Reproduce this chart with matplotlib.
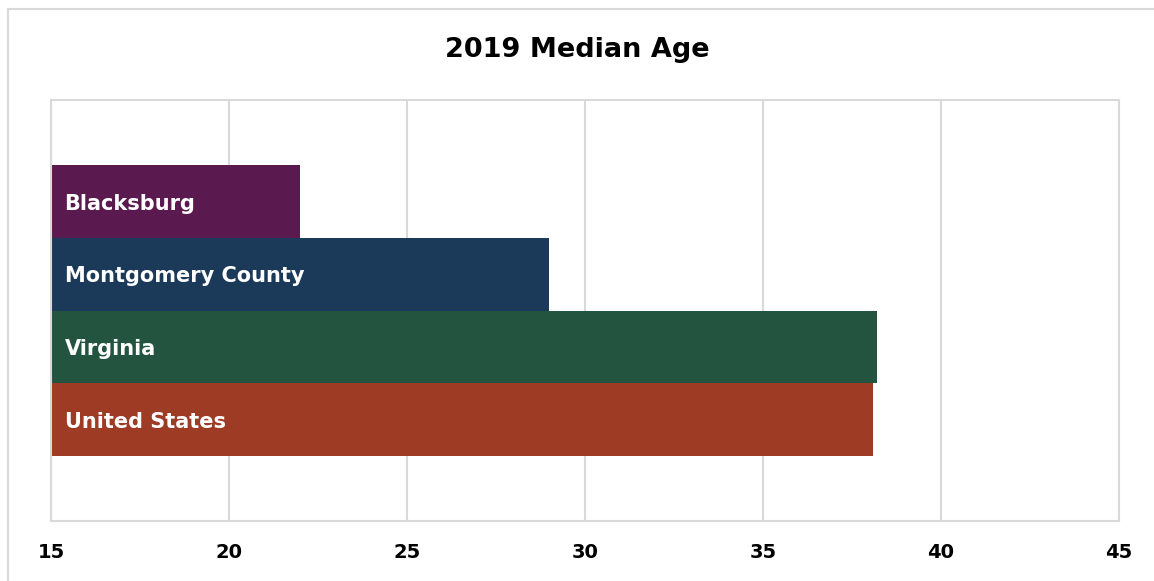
import matplotlib.pyplot as plt
from matplotlib.patches import Rectangle

places = ["Blacksburg", "Montgomery County", "Virginia", "United States"]
median_age = [22.0, 29.0, 38.2, 38.1]
bar_colors = ["#5B1A4F", "#1B3A59", "#235440", "#9D3B24"]
x_ticks = [15, 20, 25, 30, 35, 40, 45]

plt.rcParams['font.family'] = ['DejaVu Sans']

W, H = 1154, 581
fig = plt.figure(figsize=(W / 100, H / 100), dpi=100)

# light outer chart frame, cut off at right and bottom
fig.patches.append(Rectangle((8 / W, -0.05), 1.2, 1 - 9 / H + 0.05,
                             transform=fig.transFigure, fill=False,
                             edgecolor="#d9d9d9", linewidth=1.5))

ax = fig.add_axes([51 / W, 1 - 521 / H, (1119 - 51) / W, (521 - 100) / H])

# bars stacked from the top, each one category unit tall
pos = list(range(len(places)))
ax.barh(pos, [v - 15 for v in median_age], left=15, height=1.0,
        color=bar_colors, edgecolor="none")

for p, name in zip(pos, places):
    ax.text(15.38, p + 0.03, name, color="white", fontsize=15, fontweight="bold",
            va="center", ha="left")

ax.set_xlim(15, 45)
ax.set_ylim(3.5 + 0.9, -0.5 - 0.9)
ax.set_xticks(x_ticks)
ax.set_xticklabels([str(t) for t in x_ticks], fontsize=14, fontweight="bold")
ax.tick_params(axis="x", length=0, pad=16)
ax.set_yticks([])

ax.grid(axis="x", color="#d9d9d9", linewidth=1.5)
ax.set_axisbelow(True)
for s in ax.spines.values():
    s.set_color("#d9d9d9")
    s.set_linewidth(1.5)

fig.text(0.5, 1 - 50 / H, "2019 Median Age", ha="center", va="center",
         fontsize=19.5, fontweight="bold")

fig.savefig("out.png", dpi=100)
